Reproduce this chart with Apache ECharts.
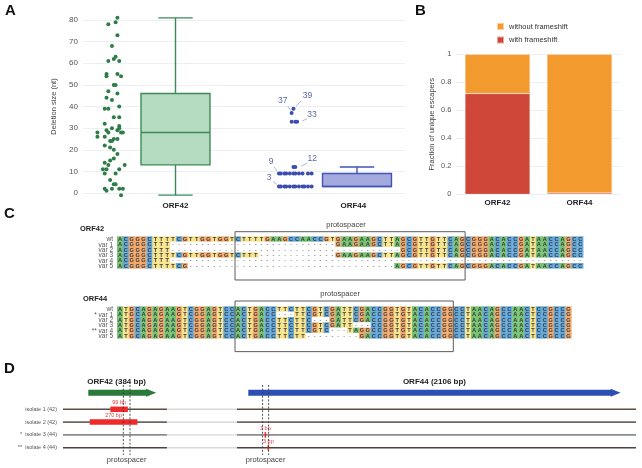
<!DOCTYPE html>
<html>
<head>
<meta charset="utf-8">
<script src="https://cdn.jsdelivr.net/npm/echarts/dist/echarts.min.js"></script>
<style>html,body{margin:0;padding:0;background:#fff}#c{width:642px;height:468px}</style>
</head>
<body>
<div id="c"></div>
<script>
// ================= DATA =================
// ---- Panel A: deletion sizes (nt); x = jitter position in category units (ORF42 = 1, ORF44 = 2)
const deletionCategories = ['ORF42', 'ORF44'];
const orf42Deletions = [
  [0.68,81],[0.67,79],[0.63,78],[0.68,73],[0.65,68],[0.67,63],[0.66,62],[0.63,61],[0.69,61],
  [0.62,55],[0.62,54],[0.68,55],[0.70,54],[0.66,50],[0.67,50],[0.63,47],[0.68,46],[0.62,44],
  [0.65,43],[0.69,40],[0.61,39],[0.63,39],[0.66,35],[0.69,35],[0.61,32],[0.69,31],[0.62,29],
  [0.63,28],[0.65,30],[0.68,29],[0.69,30],[0.70,28],[0.71,28],[0.57,28],[0.57,26],[0.61,26],
  [0.64,24],[0.65,24],[0.66,25],[0.68,25],[0.61,22],[0.64,21],[0.66,20],[0.68,18],[0.66,16],
  [0.64,15],[0.61,14],[0.63,13],[0.72,13],[0.60,11],[0.62,11],[0.69,11],[0.61,9],[0.67,9],
  [0.64,6],[0.66,4],[0.67,4],[0.61,2],[0.62,1],[0.65,2],[0.69,2],[0.71,2],[0.70,-1]
];
const orf44Deletions = [
  [1.57,3],[1.58,3],[1.60,3],[1.61,3],[1.63,3],[1.65,3],[1.66,3],[1.68,3],[1.70,3],[1.71,3],[1.73,3],[1.75,3],
  [1.57,9],[1.58,9],[1.60,9],[1.61,9],[1.63,9],[1.65,9],[1.66,9],[1.68,9],[1.70,9],[1.73,9],[1.75,9],
  [1.65,12],[1.66,12],
  [1.64,33],[1.66,33],[1.67,33],
  [1.64,37],
  [1.65,39]
];
// min, q1, median, q3, max
const deletionBoxStats = [[-1, 13, 28, 46, 81], [3, 3, 3, 9, 12]];
const orf44Callouts = [[1.64,37,'37'],[1.65,39,'39'],[1.67,33,'33'],[1.66,12,'12'],[1.565,9,'9'],[1.565,3,'3']];

// ---- Panel B: fraction of unique escapers
const escaperCategories = ['ORF42', 'ORF44'];
const withFrameshift = [0.72, 0.01];
const withoutFrameshift = [0.28, 0.99];

// ---- Panel C: alignments
const orf42RowNames = ['wt', 'var 1', 'var 2', 'var 3', 'var 4', 'var 5'];
const orf42Seqs = [
  'ACGGGCTTTTCGTTGGTGGTCTTTTGAAGCCAACCGTGAAGAAGCTTAGCGTTGTTCAGCGGGACACCGATAACCAGCC',
  'ACGGGCTTT' + '----------' + '----------' + '--------' + 'GAAGAAGCTTAGCGTTGTTCAGCGGGACACCGATAACCAGCC',
  'ACGGGCTTT' + '----------' + '----------' + '----------' + '---------' + 'GCGTTGTTCAGCGGGACACCGATAACCAGCC',
  'ACGGGCTTTTCGTTGGTGGTCTTT' + '----------' + '---' + 'GAAGAAGCTTAGCGTTGTTCAGCGGGACACCGATAACCAGCC',
  'ACGGGCTTT' + '----------' + '----------' + '----------' + '----------' + '----------' + '----------' + '----------',
  'ACGGGCTTTTCG' + '----------' + '----------' + '----------' + '-----' + 'AGCGTTGTTCAGCGGGACACCGATAACCAGCC'
];
const orf42Protospacer = [[20, 59]];
const orf44RowNames = ['wt', '* var 1', 'var 2', 'var 3', '** var 4', 'var 5'];
const orf44Seqs = [
  'ATGCAGAGAAGTCGGAGTCCACTGACCTTCTTCGTCGATTCGACCGGTGTACACCGGCCTAACAGCCAACTCCGCCG',
  'ATGCAGAGAAGTCGGAGTCCACTGACC' + '---' + 'TTCGTCGATTCGACCGGTGTACACCGGCCTAACAGCCAACTCCGCCG',
  'ATGCAGAGAAGTCGGAGTCCACTGACCTTCTTC' + '---' + 'GATTCGACCGGTGTACACCGGCCTAACAGCCAACTCCGCCG',
  'ATGCAGAGAAGTCGGAGTCCACTGACCTTCTTCGTCGATT' + '---' + 'CCGGTGTACACCGGCCTAACAGCCAACTCCGCCG',
  'ATGCAGAGAAGTCGGAGTCCACTGACCTTCTTCGTC' + '---' + 'TAGG' + 'CCGGTGTACACCGGCCTAACAGCCAACTCCGCCG',
  'ATGCAGAGAAGTCGGAGTCCACTGACCTTCTT' + '---------' + 'GACCGGTGTACACCGGCCTAACAGCCAACTCCGCCG'
];
const orf44Protospacer = [[20, 57]];

// ---- Panel D: genomic map (bp)
const isolateNames = ['isolate 1 (42)', 'isolate 2 (42)', '*  isolate 3 (44)', '**  isolate 4 (44)'];
const genes = [['ORF42 (384 bp)', 0, 384], ['ORF44 (2106 bp)', 905, 3011]];
const trackExtent = [-143, 3098];
const omittedRegion = [445, 841];
const deletionsD = [[0, 125, 224, '99 bp'], [1, 8, 278, '270 bp'], [2, 997, 1000, '3 bp'], [3, 1014, 1017, '3 bp']];
const protospacerSites = [[198, 236], [986, 1020]];

// ================= STYLE / HELPERS =================
const FONT = '"Liberation Sans", Arial, Helvetica, sans-serif';
const BASES = 'ACGT-';
const BASE_COLORS = ['#76c373', '#63a8dc', '#f2a86b', '#f8e48d', '#ffffff'];

function seqData(seqs) {
  const out = [];
  seqs.forEach(function (s, r) {
    for (let i = 0; i < s.length; i++) out.push([i, r, BASES.indexOf(s[i])]);
  });
  return out;
}
function makeCellRenderer(rowNames) {
  return function (params, api) {
    const i = api.value(0), r = api.value(1), b = api.value(2);
    const p0 = api.coord([i, r - 0.5]), p1 = api.coord([i + 1, r + 0.5]);
    const x = Math.min(p0[0], p1[0]), y = Math.min(p0[1], p1[1]);
    const w = Math.abs(p1[0] - p0[0]), h = Math.abs(p1[1] - p0[1]);
    const ch = [
      { type: 'rect', shape: { x: x, y: y, width: w + 0.3, height: h + 0.3 }, style: { fill: BASE_COLORS[b] } },
      { type: 'text', style: { text: BASES[b], x: x + w / 2, y: y + h / 2 + 0.4, align: 'center', verticalAlign: 'middle',
        font: 'bold 5.6px ' + FONT, fill: b === 4 ? '#777' : '#3a3a3a' } }
    ];
    if (i === 0) {
      ch.push({ type: 'text', style: { text: rowNames[r], x: x - 4, y: y + h / 2 + 0.4, align: 'right', verticalAlign: 'middle',
        font: '6.5px ' + FONT, fill: '#555' } });
    }
    return { type: 'group', children: ch };
  };
}
function renderProto(params, api) {
  const x0 = api.coord([api.value(0), 0])[0], x1 = api.coord([api.value(1), 0])[0];
  const cs = params.coordSys;
  return {
    type: 'group', children: [
      { type: 'rect', shape: { x: x0, y: cs.y, width: x1 - x0, height: cs.height }, style: { fill: 'none', stroke: '#5c5c5c', lineWidth: 1 } },
      { type: 'text', style: { text: 'protospacer', x: (x0 + x1) / 2 - 4, y: cs.y - 7, align: 'center', verticalAlign: 'middle',
        font: '7.5px ' + FONT, fill: '#444' } }
    ]
  };
}
const boxStroke = ['#3d8a58', '#4453b8'];
const boxFill = ['#b4dac0', '#a4aade'];
function renderBox(params, api) {
  const idx = params.dataIndex;
  const c = api.value(0);
  const mn = api.coord([c, api.value(1)]), q1 = api.coord([c, api.value(2)]), md = api.coord([c, api.value(3)]),
        q3 = api.coord([c, api.value(4)]), mx = api.coord([c, api.value(5)]);
  const w = api.size([0.38, 0])[0];
  const x = mn[0];
  const st = { stroke: boxStroke[idx], lineWidth: 1.4, fill: 'none' };
  const ch = [
    { type: 'line', shape: { x1: x, y1: q3[1], x2: x, y2: mx[1] }, style: st },
    { type: 'line', shape: { x1: x, y1: q1[1], x2: x, y2: mn[1] }, style: st },
    { type: 'line', shape: { x1: x - w / 4, y1: mx[1], x2: x + w / 4, y2: mx[1] }, style: st },
    { type: 'rect', shape: { x: x - w / 2, y: q3[1], width: w, height: q1[1] - q3[1] }, style: { fill: boxFill[idx], stroke: boxStroke[idx], lineWidth: 1.4 } },
    { type: 'line', shape: { x1: x - w / 2, y1: md[1], x2: x + w / 2, y2: md[1] }, style: st }
  ];
  if (mn[1] - q1[1] > 0.5) ch.push({ type: 'line', shape: { x1: x - w / 4, y1: mn[1], x2: x + w / 4, y2: mn[1] }, style: st });
  return { type: 'group', children: ch };
}
const calloutOffsets = {
  '37': { a: [-1, -2.5], b: [-4, -7], t: [-9, -12] },
  '39': { a: [2.5, -2.5], b: [8, -8], t: [14, -13] },
  '33': { a: [5, -0.5], b: [10, -3], t: [15, -7] },
  '12': { a: [6, -1], b: [12, -4], t: [17, -8] },
  '9':  { a: [-1, -2.5], b: [-4, -7], t: [-7, -12] },
  '3':  { a: [-1, -2], b: [-5, -5], t: [-9, -9] }
};
function renderCallout(params, api) {
  const p = api.coord([api.value(0), api.value(1)]);
  const lbl = orf44Callouts[params.dataIndex][2];
  const o = calloutOffsets[lbl];
  return {
    type: 'group', children: [
      { type: 'line', shape: { x1: p[0] + o.a[0], y1: p[1] + o.a[1], x2: p[0] + o.b[0], y2: p[1] + o.b[1] }, style: { stroke: '#9aa3cf', lineWidth: 0.8 } },
      { type: 'text', style: { text: lbl, x: p[0] + o.t[0], y: p[1] + o.t[1], align: 'center', verticalAlign: 'middle', font: '8.5px ' + FONT, fill: '#5a68a6' } }
    ]
  };
}
// Panel D renderers
const geneRow = -1.3;
const geneColors = ['#2a7a3b', '#2d4fb3'];
const geneLabelAlign = ['left', 'center'];
function renderGene(params, api) {
  const i = params.dataIndex;
  const p0 = api.coord([api.value(1), geneRow]), p1 = api.coord([api.value(2), geneRow]);
  const y = p0[1], x0 = p0[0], x1 = p1[0];
  const h = 6, hh = 8, head = 10;
  return {
    type: 'group', children: [
      { type: 'polygon', shape: { points: [[x0, y - h / 2], [x1 - head, y - h / 2], [x1 - head, y - hh / 2], [x1, y], [x1 - head, y + hh / 2], [x1 - head, y + h / 2], [x0, y + h / 2]] },
        style: { fill: geneColors[i] } },
      { type: 'text', style: { text: genes[i][0], x: geneLabelAlign[i] === 'left' ? x0 - 1 : (x0 + x1) / 2, y: y - 10.5, align: geneLabelAlign[i], verticalAlign: 'middle',
        font: 'bold 8px ' + FONT, fill: '#222' } }
    ]
  };
}
const trackColors = ['#5e4c44', '#6e6661', '#8c8c8c', '#4d423c'];
const trackLight = ['#d9d9d9', '#dedede', '#e3e3e3', '#dadada'];
function renderTrack(params, api) {
  const r = api.value(0);
  const a = api.coord([trackExtent[0], r]), b = api.coord([omittedRegion[0], r]),
        c = api.coord([omittedRegion[1], r]), d = api.coord([trackExtent[1], r]);
  return {
    type: 'group', children: [
      { type: 'line', shape: { x1: a[0], y1: a[1], x2: b[0], y2: b[1] }, style: { stroke: trackColors[r], lineWidth: 1.6 } },
      { type: 'line', shape: { x1: b[0], y1: b[1], x2: c[0], y2: c[1] }, style: { stroke: trackLight[r], lineWidth: 1.6 } },
      { type: 'line', shape: { x1: c[0], y1: c[1], x2: d[0], y2: d[1] }, style: { stroke: trackColors[r], lineWidth: 1.6 } }
    ]
  };
}
function renderDeletion(params, api) {
  const r = api.value(0);
  const p0 = api.coord([api.value(1), r]), p1 = api.coord([api.value(2), r]);
  const w = Math.max(1.6, p1[0] - p0[0]);
  const h = 5.5;
  return {
    type: 'group', children: [
      { type: 'rect', shape: { x: p0[0], y: p0[1] - h / 2, width: w, height: h }, style: { fill: '#ee2a2a' } },
      { type: 'text', style: { text: deletionsD[params.dataIndex][3], x: p0[0] + w / 2, y: p0[1] - 6.5, align: 'center', verticalAlign: 'middle',
        font: '5.5px ' + FONT, fill: '#f03a3a' } }
    ]
  };
}
function renderSite(params, api) {
  const cs = params.coordSys;
  const x0 = api.coord([api.value(0), 0])[0], x1 = api.coord([api.value(1), 0])[0];
  const st = { stroke: '#3c3c3c', lineWidth: 0.9, lineDash: [2, 1.6] };
  return {
    type: 'group', children: [
      { type: 'line', shape: { x1: x0, y1: cs.y, x2: x0, y2: cs.y + cs.height }, style: st },
      { type: 'line', shape: { x1: x1, y1: cs.y, x2: x1, y2: cs.y + cs.height }, style: st },
      { type: 'text', style: { text: 'protospacer', x: (x0 + x1) / 2, y: cs.y + cs.height + 4.5, align: 'center', verticalAlign: 'middle',
        font: '7.5px ' + FONT, fill: '#444' } }
    ]
  };
}

// ================= OPTION =================
const CELL_W = 5.9, CELL_H = 5.33;
const option = {
  animation: false,
  backgroundColor: '#fff',
  textStyle: { fontFamily: FONT },
  title: [
    { text: 'A', left: 5, top: 3, padding: 0, textStyle: { fontSize: 15, fontWeight: 'bold', color: '#111', fontFamily: FONT } },
    { text: 'B', left: 415, top: 3, padding: 0, textStyle: { fontSize: 15, fontWeight: 'bold', color: '#111', fontFamily: FONT } },
    { text: 'C', left: 4, top: 206, padding: 0, textStyle: { fontSize: 15, fontWeight: 'bold', color: '#111', fontFamily: FONT } },
    { text: 'D', left: 4, top: 361, padding: 0, textStyle: { fontSize: 15, fontWeight: 'bold', color: '#111', fontFamily: FONT } },
    { text: 'ORF42', left: 80, top: 225, padding: 0, textStyle: { fontSize: 7.5, fontWeight: 'bold', color: '#222', fontFamily: FONT } },
    { text: 'ORF44', left: 83, top: 295, padding: 0, textStyle: { fontSize: 7.5, fontWeight: 'bold', color: '#222', fontFamily: FONT } }
  ],
  legend: {
    data: ['without frameshift', 'with frameshift'],
    orient: 'vertical', left: 496, top: 22, padding: 0, itemWidth: 7, itemHeight: 7, itemGap: 4.5, icon: 'rect',
    textStyle: { fontSize: 7.5, color: '#333', fontFamily: FONT }
  },
  grid: [
    { left: 83, top: 20, width: 322, height: 173 },
    { left: 456.5, top: 54.3, width: 164, height: 140 },
    { left: 117, top: 231.7, width: 79 * CELL_W, height: 9.06 * CELL_H },
    { left: 117, top: 301, width: 77 * CELL_W, height: 9.5 * CELL_H },
    { left: 63, top: 385, width: 573, height: 70 }
  ],
  xAxis: [
    { gridIndex: 0, type: 'value', min: 0.4904, max: 2.2645, axisLine: { show: false }, axisTick: { show: false }, splitLine: { show: false },
      axisLabel: { customValues: [1, 1.98], formatter: function (v) { return deletionCategories[v < 1.5 ? 0 : 1]; },
        fontWeight: 'bold', fontSize: 8, color: '#222', margin: 9 } },
    { gridIndex: 1, type: 'category', data: escaperCategories, axisLine: { show: false }, axisTick: { show: false },
      axisLabel: { fontWeight: 'bold', fontSize: 8, color: '#222', margin: 4 } },
    { gridIndex: 2, type: 'value', min: 0, max: 79, show: false },
    { gridIndex: 3, type: 'value', min: 0, max: 77, show: false },
    { gridIndex: 4, type: 'value', min: trackExtent[0], max: trackExtent[1], show: false }
  ],
  yAxis: [
    { gridIndex: 0, type: 'value', min: 0, max: 80, interval: 10, axisLine: { show: false }, axisTick: { show: false },
      splitLine: { lineStyle: { color: '#eceff6', width: 1 } },
      axisLabel: { fontSize: 8, color: '#555', margin: 5 },
      name: 'Deletion size (nt)', nameLocation: 'middle', nameGap: 16, nameTextStyle: { fontSize: 7.5, color: '#444' } },
    { gridIndex: 1, type: 'value', min: 0, max: 1, interval: 0.2, axisLine: { show: false }, axisTick: { show: false },
      splitLine: { lineStyle: { color: '#eceff6', width: 1 } },
      axisLabel: { fontSize: 7.5, color: '#555', margin: 5 },
      name: 'Fraction of unique escapers', nameLocation: 'middle', nameGap: 21, nameTextStyle: { fontSize: 7.5, color: '#444' } },
    { gridIndex: 2, type: 'value', inverse: true, min: -1.37, max: 7.69, show: false },
    { gridIndex: 3, type: 'value', inverse: true, min: -1.5, max: 8.0, show: false },
    { gridIndex: 4, type: 'value', inverse: true, min: -1.9, max: 3.57, axisLine: { show: false }, axisTick: { show: false }, splitLine: { show: false },
      axisLabel: { customValues: [0, 1, 2, 3], formatter: function (v) { return isolateNames[Math.round(v)]; }, fontSize: 5.5, color: '#555', margin: 6 } }
  ],
  series: [
    // Panel A
    { type: 'custom', xAxisIndex: 0, yAxisIndex: 0, renderItem: renderBox,
      data: deletionBoxStats.map(function (s, i) { return [i + 1].concat(s); }), z: 2 },
    { type: 'scatter', xAxisIndex: 0, yAxisIndex: 0, data: orf42Deletions, symbolSize: 4, clip: false,
      itemStyle: { color: '#2e7c47', opacity: 1 }, z: 3 },
    { type: 'scatter', xAxisIndex: 0, yAxisIndex: 0, data: orf44Deletions, symbolSize: 4, clip: false,
      itemStyle: { color: '#3b4db0', opacity: 1 }, z: 3 },
    { type: 'custom', xAxisIndex: 0, yAxisIndex: 0, renderItem: renderCallout, data: orf44Callouts.map(function (c) { return [c[0], c[1]]; }), z: 4 },
    // Panel B
    { name: 'with frameshift', type: 'bar', xAxisIndex: 1, yAxisIndex: 1, stack: 'esc', data: withFrameshift, barWidth: 65,
      itemStyle: { color: '#cf4738', borderColor: 'rgba(255,255,255,0.5)', borderWidth: 0.5 } },
    { name: 'without frameshift', type: 'bar', xAxisIndex: 1, yAxisIndex: 1, stack: 'esc', data: withoutFrameshift, barWidth: 65,
      itemStyle: { color: '#f29a2e', borderColor: 'rgba(255,255,255,0.5)', borderWidth: 0.5 } },
    // Panel C
    { type: 'custom', xAxisIndex: 2, yAxisIndex: 2, renderItem: makeCellRenderer(orf42RowNames), data: seqData(orf42Seqs) },
    { type: 'custom', xAxisIndex: 2, yAxisIndex: 2, renderItem: renderProto, data: orf42Protospacer, z: 5 },
    { type: 'custom', xAxisIndex: 3, yAxisIndex: 3, renderItem: makeCellRenderer(orf44RowNames), data: seqData(orf44Seqs) },
    { type: 'custom', xAxisIndex: 3, yAxisIndex: 3, renderItem: renderProto, data: orf44Protospacer, z: 5 },
    // Panel D
    { type: 'custom', xAxisIndex: 4, yAxisIndex: 4, renderItem: renderTrack, data: isolateNames.map(function (n, i) { return [i]; }) },
    { type: 'custom', xAxisIndex: 4, yAxisIndex: 4, renderItem: renderDeletion, data: deletionsD.map(function (d) { return [d[0], d[1], d[2]]; }), z: 3 },
    { type: 'custom', xAxisIndex: 4, yAxisIndex: 4, renderItem: renderGene, data: genes.map(function (g, i) { return [i, g[1], g[2]]; }), z: 3 },
    { type: 'custom', xAxisIndex: 4, yAxisIndex: 4, renderItem: renderSite, data: protospacerSites, z: 6 }
  ]
};
const chart = echarts.init(document.getElementById('c'), null, { renderer: 'canvas' });
chart.setOption(option);
</script>
</body>
</html>
